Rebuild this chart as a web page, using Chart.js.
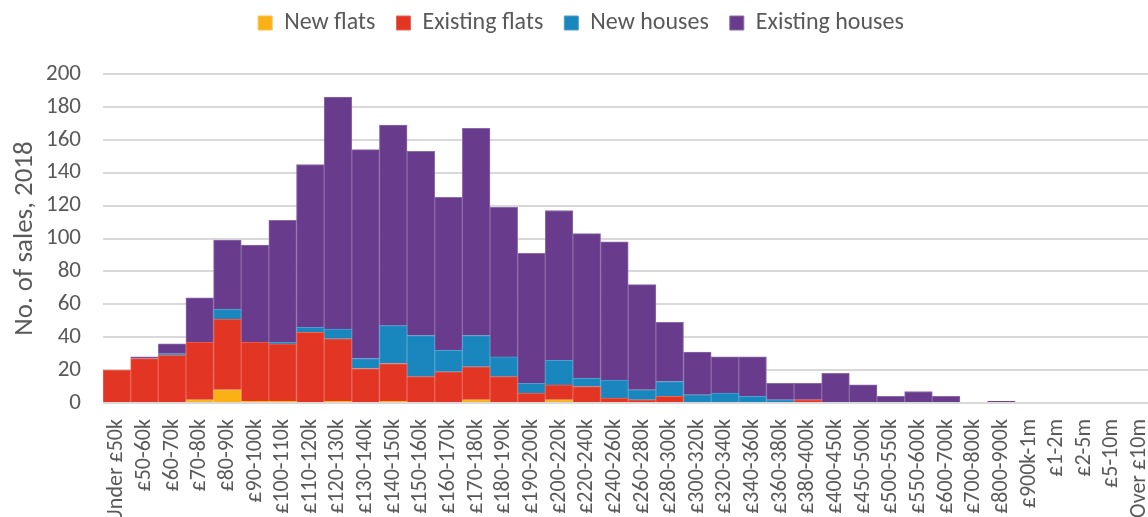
<!DOCTYPE html>
<html>
<head>
<meta charset="utf-8">
<script src="https://cdn.jsdelivr.net/npm/chart.js@4/dist/chart.umd.min.js"></script>
<style>
  html, body { margin: 0; padding: 0; background: #fff; overflow: hidden; }
  #wrap { position: absolute; left: 0; top: 0; width: 1182px; height: 517px; }
</style>
</head>
<body>
<div id="wrap"><canvas id="chart"></canvas></div>
<script>
// Price bands
const bands = [
  'Under £50k', '£50-60k', '£60-70k', '£70-80k', '£80-90k', '£90-100k',
  '£100-110k', '£110-120k', '£120-130k', '£130-140k', '£140-150k', '£150-160k',
  '£160-170k', '£170-180k', '£180-190k', '£190-200k', '£200-220k', '£220-240k',
  '£240-260k', '£260-280k', '£280-300k', '£300-320k', '£320-340k', '£340-360k',
  '£360-380k', '£380-400k', '£400-450k', '£450-500k', '£500-550k', '£550-600k',
  '£600-700k', '£700-800k', '£800-900k', '£900k-1m', '£1-2m', '£2-5m', '£5-10m', 'Over £10m'
];

// Sales counts per band
const newFlats = [0, 0, 0, 2, 8, 1, 1, 0, 1, 0, 1, 0, 0, 2, 0, 0, 2, 0, 0, 0, 0, 0, 0, 0, 0, 0, 0, 0, 0, 0, 0, 0, 0, 0, 0, 0, 0, 0];
const existingFlats = [20, 27, 29, 35, 43, 36, 35, 43, 38, 21, 23, 16, 19, 20, 16, 6, 9, 10, 3, 2, 4, 0, 0, 0, 0, 2, 0, 0, 0, 0, 0, 0, 0, 0, 0, 0, 0, 0];
const newHouses = [0, 0, 1, 0, 6, 0, 1, 3, 6, 6, 23, 25, 13, 19, 12, 6, 15, 5, 11, 6, 9, 5, 6, 4, 2, 0, 0, 0, 0, 0, 0, 0, 0, 0, 0, 0, 0, 0];
const existingHouses = [0, 1, 6, 27, 42, 59, 74, 99, 141, 127, 122, 112, 93, 126, 91, 79, 91, 88, 84, 64, 36, 26, 22, 24, 10, 10, 18, 11, 4, 7, 4, 0, 1, 0, 0, 0, 0, 0];

const yTicks = [0, 20, 40, 60, 80, 100, 120, 140, 160, 180, 200];

const FONT = 'Carlito, Lato, "Liberation Sans", sans-serif';
const TEXT = '#595959';

const makeSet = (label, data, colour, edge) => ({
  label,
  data,
  backgroundColor: colour,
  borderColor: edge,
  borderWidth: 1,
  borderSkipped: 'bottom',
  barPercentage: 1,
  categoryPercentage: 1
});

// Give the legend extra room below it, so the plot starts lower,
// and centre it on the visible part of the page
const legendGap = {
  id: 'legendGap',
  beforeInit(chart) {
    const fit = chart.legend.fit;
    chart.legend.fit = function () {
      fit.call(this);
      this.height = 84;
    };
  },
  afterLayout(chart) {
    chart.legend.right -= 20;
    chart.legend.width -= 20;
  }
};

const ctx = document.getElementById('chart').getContext('2d');
new Chart(ctx, {
  type: 'bar',
  data: {
    labels: bands,
    datasets: [
      makeSet('New flats', newFlats, '#F9B115', '#FAC24C'),
      makeSet('Existing flats', existingFlats, '#E33524', '#EA6556'),
      makeSet('New houses', newHouses, '#1A86BE', '#4FA0CC'),
      makeSet('Existing houses', existingHouses, '#693B8D', '#8C6AA8')
    ]
  },
  plugins: [legendGap],
  options: {
    responsive: true,
    maintainAspectRatio: false,
    animation: false,
    layout: { padding: { top: -10, right: 0, left: 0, bottom: 0 } },
    plugins: {
      tooltip: { enabled: false },
      legend: {
        position: 'top',
        labels: {
          font: { family: FONT, size: 24 },
          color: TEXT,
          boxWidth: 14,
          boxHeight: 14,
          padding: 21
        }
      }
    },
    scales: {
      x: {
        stacked: true,
        grid: { display: false, drawTicks: false },
        border: { display: false },
        ticks: {
          font: { family: FONT, size: 22 },
          color: TEXT,
          maxRotation: 90,
          minRotation: 90,
          autoSkip: false,
          padding: 16
        },
        afterFit: (scale) => { scale.height = 114; }
      },
      y: {
        stacked: true,
        min: 0,
        max: 200,
        afterBuildTicks: (scale) => { scale.ticks = yTicks.map(v => ({ value: v })); },
        grid: { color: '#D9D9D9', lineWidth: 2, drawTicks: false },
        border: { display: false },
        ticks: {
          font: { family: FONT, size: 23 },
          color: TEXT,
          padding: 22
        },
        title: {
          display: true,
          text: 'No. of sales, 2018',
          font: { family: FONT, size: 27 },
          color: TEXT,
          padding: { top: 9, bottom: 0 }
        },
        afterFit: (scale) => { scale.width = 103; }
      }
    }
  }
});
</script>
</body>
</html>
